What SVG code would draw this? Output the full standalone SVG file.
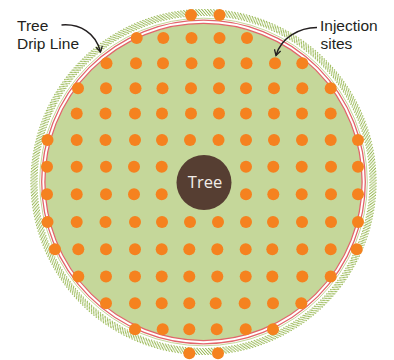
<svg xmlns="http://www.w3.org/2000/svg" width="394" height="360" viewBox="0 0 394 360">
<style>
.h{fill:none;stroke:#9fbd5f;stroke-width:1.1;stroke-dasharray:0.45 0.55}
.rl{fill:none;stroke:#e2646a;stroke-width:1.3}
.d{fill:#f5821f}
.lbl{font-family:"Liberation Sans",Arial,sans-serif;font-size:15.5px;fill:#231f20}
.ar{fill:none;stroke:#231f20;stroke-width:1.5}
</style>
<defs>
<marker id="ah" viewBox="0 0 10 10" refX="8" refY="5" markerWidth="8" markerHeight="8" markerUnits="userSpaceOnUse" orient="auto">
<polyline points="1,1 8,5 1,9" fill="none" stroke="#231f20" stroke-width="1.6"/>
</marker>
</defs>
<rect width="394" height="360" fill="#ffffff"/>
<g id="drip-ring">
<circle class="h" cx="203.5" cy="182" r="166.5" pathLength="360" stroke-dashoffset="0"/>
<circle class="h" cx="203.5" cy="182" r="167.5" pathLength="360" stroke-dashoffset="0.3"/>
<circle class="h" cx="203.5" cy="182" r="168.5" pathLength="360" stroke-dashoffset="0.6"/>
<circle class="h" cx="203.5" cy="182" r="169.5" pathLength="360" stroke-dashoffset="0.9"/>
<circle class="h" cx="203.5" cy="182" r="170.5" pathLength="360" stroke-dashoffset="1.2"/>
<circle class="h" cx="203.5" cy="182" r="171.5" pathLength="360" stroke-dashoffset="1.5"/>
<circle class="h" cx="203.5" cy="182" r="172.5" pathLength="360" stroke-dashoffset="1.8"/>
<circle cx="203.5" cy="182" r="158.5" fill="#c5d79a"/>
<circle cx="203.5" cy="182" r="163.8" fill="none" stroke="#c5d79a" stroke-width="1"/>
<circle class="rl" cx="203.5" cy="182" r="161.8"/>
<circle class="rl" cx="203.5" cy="182" r="158.6"/>
</g>
<g id="injection-sites">
<circle class="d" cx="191" cy="15" r="6"/><circle class="d" cx="219.5" cy="15" r="6"/>
<circle class="d" cx="136.7" cy="38" r="6"/><circle class="d" cx="163.3" cy="38" r="6"/><circle class="d" cx="191.5" cy="38" r="6"/><circle class="d" cx="219.5" cy="38" r="6"/><circle class="d" cx="247" cy="38" r="6"/>
<circle class="d" cx="106.5" cy="63.3" r="6"/><circle class="d" cx="136" cy="63.3" r="6"/><circle class="d" cx="163" cy="63.3" r="6"/><circle class="d" cx="191.5" cy="63.3" r="6"/><circle class="d" cx="219" cy="63.3" r="6"/><circle class="d" cx="246.5" cy="63.3" r="6"/><circle class="d" cx="275" cy="63.3" r="6"/><circle class="d" cx="302.3" cy="63.3" r="6"/>
<circle class="d" cx="78" cy="88.3" r="6"/><circle class="d" cx="106" cy="88.3" r="6"/><circle class="d" cx="135.5" cy="88.3" r="6"/><circle class="d" cx="162.5" cy="88.3" r="6"/><circle class="d" cx="191" cy="88.3" r="6"/><circle class="d" cx="219" cy="88.3" r="6"/><circle class="d" cx="246" cy="88.3" r="6"/><circle class="d" cx="274" cy="88.3" r="6"/><circle class="d" cx="302.3" cy="88.3" r="6"/><circle class="d" cx="330.7" cy="88.3" r="6"/>
<circle class="d" cx="76.7" cy="113.5" r="6"/><circle class="d" cx="105.5" cy="113.5" r="6"/><circle class="d" cx="135" cy="113.5" r="6"/><circle class="d" cx="162" cy="113.5" r="6"/><circle class="d" cx="191" cy="113.5" r="6"/><circle class="d" cx="219" cy="113.5" r="6"/><circle class="d" cx="246" cy="113.5" r="6"/><circle class="d" cx="274" cy="113.5" r="6"/><circle class="d" cx="302" cy="113.5" r="6"/><circle class="d" cx="330.7" cy="113.5" r="6"/>
<circle class="d" cx="47.5" cy="140" r="6"/><circle class="d" cx="76.7" cy="140" r="6"/><circle class="d" cx="105.5" cy="140" r="6"/><circle class="d" cx="135" cy="140" r="6"/><circle class="d" cx="162" cy="140" r="6"/><circle class="d" cx="190" cy="140" r="6"/><circle class="d" cx="218.5" cy="140" r="6"/><circle class="d" cx="246" cy="140" r="6"/><circle class="d" cx="274" cy="140" r="6"/><circle class="d" cx="302" cy="140" r="6"/><circle class="d" cx="330.7" cy="140" r="6"/><circle class="d" cx="358" cy="140" r="6"/>
<circle class="d" cx="47" cy="166.7" r="6"/><circle class="d" cx="76.7" cy="166.7" r="6"/><circle class="d" cx="106" cy="166.7" r="6"/><circle class="d" cx="134" cy="166.7" r="6"/><circle class="d" cx="161.7" cy="166.7" r="6"/><circle class="d" cx="246" cy="166.7" r="6"/><circle class="d" cx="273.3" cy="166.7" r="6"/><circle class="d" cx="301.7" cy="166.7" r="6"/><circle class="d" cx="331" cy="166.7" r="6"/><circle class="d" cx="358" cy="166.7" r="6"/>
<circle class="d" cx="47" cy="194.3" r="6"/><circle class="d" cx="76.7" cy="194.3" r="6"/><circle class="d" cx="106" cy="194.3" r="6"/><circle class="d" cx="134" cy="194.3" r="6"/><circle class="d" cx="161.7" cy="194.3" r="6"/><circle class="d" cx="246" cy="194.3" r="6"/><circle class="d" cx="273.3" cy="194.3" r="6"/><circle class="d" cx="301.7" cy="194.3" r="6"/><circle class="d" cx="331" cy="194.3" r="6"/><circle class="d" cx="358" cy="194.3" r="6"/>
<circle class="d" cx="47.5" cy="222" r="6"/><circle class="d" cx="76.7" cy="222" r="6"/><circle class="d" cx="105.5" cy="222" r="6"/><circle class="d" cx="135" cy="222" r="6"/><circle class="d" cx="162" cy="222" r="6"/><circle class="d" cx="190" cy="222" r="6"/><circle class="d" cx="218" cy="222" r="6"/><circle class="d" cx="246" cy="222" r="6"/><circle class="d" cx="273" cy="222" r="6"/><circle class="d" cx="302" cy="222" r="6"/><circle class="d" cx="331" cy="222" r="6"/><circle class="d" cx="358" cy="222" r="6"/>
<circle class="d" cx="55" cy="249.3" r="6"/><circle class="d" cx="78.3" cy="249.3" r="6"/><circle class="d" cx="106" cy="249.3" r="6"/><circle class="d" cx="135" cy="249.3" r="6"/><circle class="d" cx="161.7" cy="249.3" r="6"/><circle class="d" cx="189.3" cy="249.3" r="6"/><circle class="d" cx="217.3" cy="249.3" r="6"/><circle class="d" cx="245.7" cy="249.3" r="6"/><circle class="d" cx="272.3" cy="249.3" r="6"/><circle class="d" cx="302.3" cy="249.3" r="6"/><circle class="d" cx="330.7" cy="249.3" r="6"/><circle class="d" cx="356.7" cy="249.3" r="6"/>
<circle class="d" cx="78.3" cy="276.5" r="6"/><circle class="d" cx="106" cy="276.5" r="6"/><circle class="d" cx="135" cy="276.5" r="6"/><circle class="d" cx="161.7" cy="276.5" r="6"/><circle class="d" cx="189.3" cy="276.5" r="6"/><circle class="d" cx="217.3" cy="276.5" r="6"/><circle class="d" cx="245.7" cy="276.5" r="6"/><circle class="d" cx="272.3" cy="276.5" r="6"/><circle class="d" cx="302.3" cy="276.5" r="6"/><circle class="d" cx="330.7" cy="276.5" r="6"/>
<circle class="d" cx="106" cy="303.3" r="6"/><circle class="d" cx="135" cy="303.3" r="6"/><circle class="d" cx="161.7" cy="303.3" r="6"/><circle class="d" cx="189.3" cy="303.3" r="6"/><circle class="d" cx="215.7" cy="303.3" r="6"/><circle class="d" cx="244.7" cy="303.3" r="6"/><circle class="d" cx="273" cy="303.3" r="6"/><circle class="d" cx="301.3" cy="303.3" r="6"/>
<circle class="d" cx="135" cy="329.3" r="6"/><circle class="d" cx="162.7" cy="329.3" r="6"/><circle class="d" cx="189.3" cy="329.3" r="6"/><circle class="d" cx="216.7" cy="329.3" r="6"/><circle class="d" cx="245.7" cy="329.3" r="6"/><circle class="d" cx="273" cy="329.3" r="6"/>
<circle class="d" cx="189.3" cy="353.3" r="6"/><circle class="d" cx="218" cy="353.3" r="6"/>
</g>
<g id="tree">
<circle cx="204" cy="182.5" r="27.5" fill="#563e32"/>
<text x="205" y="188" text-anchor="middle" font-family="'Open Sans','Liberation Sans',sans-serif" font-size="16.5" fill="#f2ede8">Tree</text>
</g>
<g id="label-drip-line">
<text class="lbl" x="17" y="31"><tspan x="17" y="31">Tree</tspan><tspan x="17" y="49">Drip Line</tspan></text>
</g>
<g id="label-injection-sites">
<text class="lbl" x="320" y="30.5"><tspan x="320" y="30.5">Injection</tspan><tspan x="320.5" y="48.5">sites</tspan></text>
</g>
<g id="connectors">
<path class="ar" d="M61.5 25 C80 23.5 96 33 100.5 52" marker-end="url(#ah)"/>
<path class="ar" d="M317 27.5 C299 27.5 281 38 276 55.5" marker-end="url(#ah)"/>
</g>
</svg>
